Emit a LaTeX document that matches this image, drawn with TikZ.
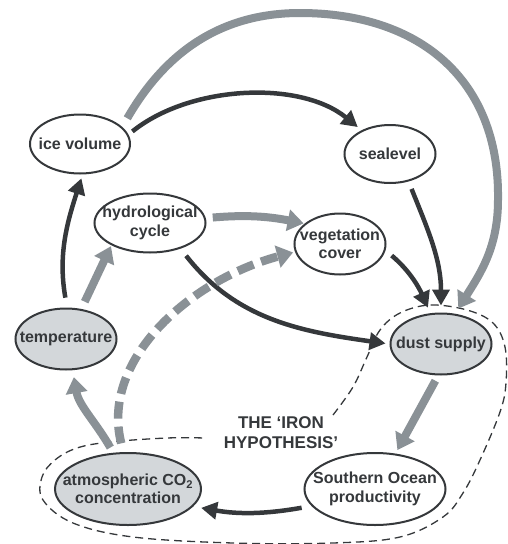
\documentclass[tikz,border=0pt]{standalone}
\usepackage{fontspec}
\setmainfont{Liberation Sans}
\usetikzlibrary{shapes.geometric,arrows.meta}
\definecolor{dk}{HTML}{35383B}
\definecolor{gr}{HTML}{8A9196}
\definecolor{fl}{HTML}{D3D7DA}
\begin{document}
\begin{tikzpicture}[x=1pt,y=-1pt,
  lbl/.style={font=\fontsize{16}{18.5}\selectfont\bfseries, text=dk, align=center, inner sep=0pt},
  bub/.style={ellipse, draw=dk, line width=2pt, inner sep=0pt, fill=white},
  shaded/.style={bub, fill=fl},
  darr/.style={draw=dk, line width=4.5pt, -{Triangle[length=16pt,width=17pt]}},
  garr/.style={draw=gr, line width=8pt, -{Triangle[length=16pt,width=21pt]}},
  gdash/.style={draw=gr, line width=8.5pt, dash pattern=on 17pt off 8pt, -{Triangle[length=16pt,width=22pt]}},
  bnd/.style={draw=dk, line width=1.3pt, dash pattern=on 8pt off 5pt}
]
\useasboundingbox (0,0) rectangle (507,544);

% iron hypothesis boundary
\draw[bnd] plot[smooth, tension=0.6] coordinates {(333,415) (353,387) (367,357) (380,330) (400,313) (430,305) (467,310) (493,323) (505,347) (506,383) (500,412) (480,460) (463,493) (443,517) (400,537) (333,543) (233,543) (133,537) (73,523) (43,500) (42,477) (55,460) (77,448) (110,442) (167,438) (205,438)};

% nodes
\node[bub, minimum width=100pt, minimum height=59pt] (ice) at (80,144) {};
\node[lbl] (iceT) at (ice) {ice volume};
\node[bub, minimum width=91pt, minimum height=58pt] (sea) at (390,154) {};
\node[lbl] (seaT) at (sea) {sealevel};
\node[bub, minimum width=111pt, minimum height=59pt] (hyd) at (150,223) {};
\node[lbl] (hydT) at (hyd) {hydrological\\cycle};
\node[bub, minimum width=91pt, minimum height=61pt] (veg) at (340,244) {};
\node[lbl] (vegT) at (veg) {vegetation\\cover};
\node[shaded, minimum width=101pt, minimum height=61pt] (tmp) at (66,339) {};
\node[lbl] (tmpT) at (tmp) {temperature};
\node[shaded, minimum width=101pt, minimum height=61pt] (dust) at (441,344) {};
\node[lbl] (dustT) at (dust) {dust supply};
\node[shaded, minimum width=146pt, minimum height=72pt] (co2) at (128,489) {};
\node[lbl] (co2T) at (co2) {atmospheric CO\textsubscript{2}\\concentration};
\node[bub, minimum width=141pt, minimum height=72pt] (so) at (375,489) {};
\node[lbl] (soT) at (so) {Southern Ocean\\productivity};

\node[lbl, font=\fontsize{17}{20}\selectfont\bfseries] (iron) at (281,433) {THE ‘IRON\\HYPOTHESIS’};

% connectors
\draw[garr, shorten <=10pt, shorten >=6pt] (ice.22) to[out=60,in=180] (300,13)
   .. controls (420,13) and (500,80) .. (498,200) to[out=-90,in=58] (dust.65);
\draw[darr, shorten <=5pt, shorten >=5pt] (ice.11) .. controls (190,85) and (300,80) .. (sea.140);
\draw[darr, shorten <=8pt, shorten >=7pt] (sea.-56) to[out=-68,in=90] (dust.90);
\draw[darr, shorten <=8pt, shorten >=6pt] (veg.-8) to[out=-40,in=114] (dust.109);
\draw[darr, shorten <=9pt, shorten >=4pt] (hyd.-40) to[out=-52,in=172] (dust.180);
\draw[darr, shorten <=10pt, shorten >=4pt] (tmp.88) to[out=100,in=-108] (ice.-85);
\draw[garr, shorten <=8pt, shorten >=1pt] (tmp.63) -- (hyd.-150);
\draw[garr, shorten <=7pt, shorten >=1pt] (hyd.5) to[bend left=8] (veg.150);
\draw[gdash, shorten <=9pt, shorten >=2pt] (co2.97) .. controls (100,360) and (190,280) .. (veg.190);
\draw[garr, shorten <=6pt, shorten >=7pt] (co2.112) to[out=120,in=-80] (tmp.-78);
\draw[garr, shorten <=6pt, shorten >=4pt] (dust.-95) -- (so.60);
\draw[darr, shorten <=10pt, shorten >=8pt] (so.195) to[out=190,in=-10] (co2.-15);
\end{tikzpicture}
\end{document}
